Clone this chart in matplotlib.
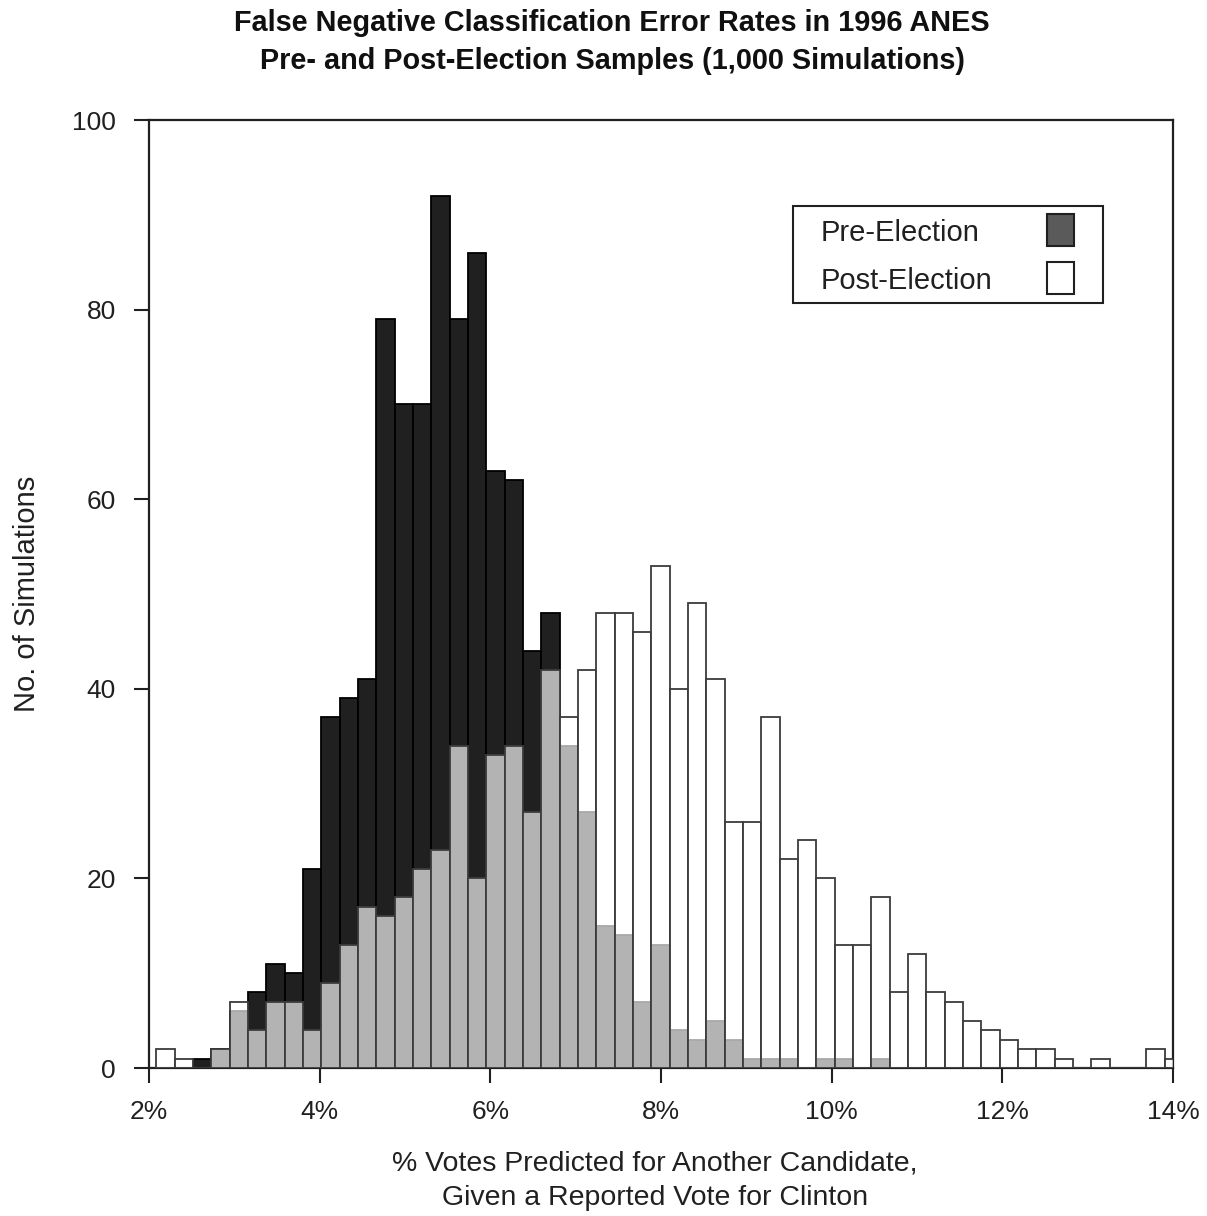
import matplotlib
matplotlib.use("Agg")
import matplotlib.pyplot as plt
from matplotlib.patches import Rectangle
import numpy as np

# ---- data (counts per bin, 1,000 simulations each) ----
bin_start = 2.087          # % (left edge of first bin)
bin_width = 0.2148         # % per bin
pre_counts = [0, 0, 1, 2, 6, 8, 11, 10, 21, 37, 39, 41, 79, 70, 70, 92, 79, 86,
              63, 62, 44, 48, 34, 27, 15, 14, 7, 13, 4, 3, 5, 3, 1, 1, 1, 0, 1,
              1, 0, 1, 0, 0, 0, 0, 0, 0, 0, 0, 0, 0, 0, 0, 0, 0, 0, 0]
post_counts = [2, 1, 0, 2, 7, 4, 7, 7, 4, 9, 13, 17, 16, 18, 21, 23, 34, 20,
               33, 34, 27, 42, 37, 42, 48, 48, 46, 53, 40, 49, 41, 26, 26, 37,
               22, 24, 20, 13, 13, 18, 8, 12, 8, 7, 5, 4, 3, 2, 2, 1, 0, 1, 0,
               0, 2, 1]
x_ticks = [2, 4, 6, 8, 10, 12, 14]
x_ticklabels = ["2%", "4%", "6%", "8%", "10%", "12%", "14%"]
y_ticks = [0, 20, 40, 60, 80, 100]
legend_labels = ["Pre-Election", "Post-Election"]

title_lines = ["False Negative Classification Error Rates in 1996 ANES",
               "Pre- and Post-Election Samples (1,000 Simulations)"]
xlabel_lines = ["% Votes Predicted for Another Candidate,",
                "Given a Reported Vote for Clinton"]
ylabel = "No. of Simulations"

W, H = 1207, 1216
fig = plt.figure(figsize=(W / 100, H / 100), dpi=100)
ax = fig.add_axes([149 / W, 1 - 1068 / H, (1173 - 149) / W, (1068 - 120) / H])

lefts = bin_start + bin_width * np.arange(len(pre_counts))
ax.bar(lefts, pre_counts, width=bin_width, align="edge",
       facecolor="#202020", edgecolor="#000000", linewidth=1.3, zorder=2)
ax.bar(lefts, post_counts, width=bin_width, align="edge",
       facecolor=(1, 1, 1, 0.664), edgecolor="#3c3c3c", linewidth=1.3, zorder=3)

ax.set_xlim(2, 14)
ax.set_ylim(0, 100)
ax.set_xticks(x_ticks)
ax.set_xticklabels(x_ticklabels)
ax.set_yticks(y_ticks)

tick_font = "Liberation Sans"
for lab in ax.get_xticklabels() + ax.get_yticklabels():
    lab.set_family(tick_font)
    lab.set_fontsize(19)
    lab.set_color("#202020")
ax.tick_params(axis="both", direction="out", length=11, width=1.5, color="#202020")
ax.tick_params(axis="x", pad=12)
ax.tick_params(axis="y", pad=13)
for sp in ax.spines.values():
    sp.set_linewidth(1.6)
    sp.set_color("#202020")

# legend (left-aligned text, swatches to the right)
lx0, ly_top = (793 - 149) / 1024, (1068 - 206) / 948
lw, lh = 310 / 1024, 97 / 948
ax.add_patch(Rectangle((lx0, ly_top - lh), lw, lh, transform=ax.transAxes,
                       facecolor="white", edgecolor="#202020", linewidth=1.5, zorder=5))
sw_w, sw_h = 27 / 1024, 32 / 948
sw_x = (1047 - 149) / 1024
for i, (lab, fc) in enumerate(zip(legend_labels, ["#5a5a5a", "white"])):
    cy = (1068 - (230 + 48 * i)) / 948
    ax.text((821 - 149) / 1024, (1068 - (233 + 48 * i)) / 948, lab,
            transform=ax.transAxes, ha="left", va="center", fontsize=21,
            family=tick_font, color="#202020", zorder=6)
    ax.add_patch(Rectangle((sw_x, cy - sw_h / 2), sw_w, sw_h, transform=ax.transAxes,
                           facecolor=fc, edgecolor="#202020", linewidth=1.5, zorder=6))

# title
for i, line in enumerate(title_lines):
    fig.text(612 / W, 1 - (23 + 38 * i) / H, line, ha="center", va="center",
             fontsize=20.8, fontweight="bold",
             family=["Liberation Sans", "DejaVu Sans"], color="#101010")

# axis labels
for i, line in enumerate(xlabel_lines):
    fig.text(655 / W, 1 - (1164 + 34 * i) / H, line, ha="center", va="center",
             fontsize=20.5, family=tick_font, color="#202020")
fig.text(27 / W, 1 - 594 / H, ylabel, rotation=90, ha="center", va="center",
         fontsize=21, family=tick_font, color="#202020")

fig.savefig("out.png", dpi=100)
